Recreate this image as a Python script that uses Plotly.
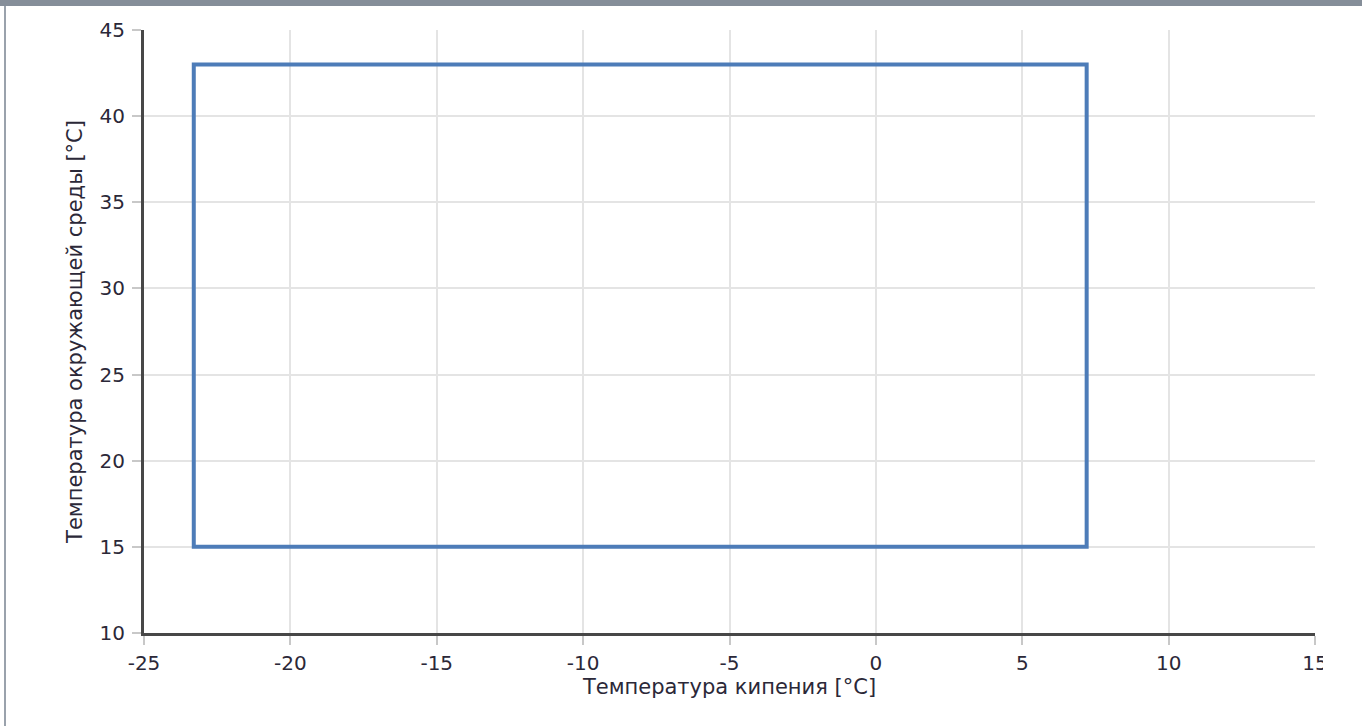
import plotly.graph_objects as go

# Data
boil_temp = [-23.3, 7.2, 7.2, -23.3, -23.3, 7.2]
ambient_temp = [43, 43, 15, 15, 43, 43]
x_ticks = [-25, -20, -15, -10, -5, 0, 5, 10, 15]
y_ticks = [10, 15, 20, 25, 30, 35, 40, 45]

W, H = 1362, 726
L, R, T, B = 144, 47, 30, 93
pw, ph = W - L - R, H - T - B

def px(x):
    return (x - L) / pw

def py(y):
    return (H - B - y) / ph

fig = go.Figure()
fig.add_trace(go.Scatter(
    x=boil_temp, y=ambient_temp, mode="lines",
    line=dict(color="#4d7cb8", width=4), hoverinfo="skip", showlegend=False,
))

FAM = "DejaVu Sans, Verdana, sans-serif"
TXT = "#2b2838"
axis_common = dict(
    showgrid=True, gridcolor="#e4e4e4", gridwidth=1.5,
    showline=True, linecolor="#474747", linewidth=3,
    ticks="outside", ticklen=9, tickwidth=2, tickcolor="#c8c8c8",
    zeroline=False, tickfont=dict(family=FAM, size=20, color=TXT),
)
fig.update_layout(
    width=W, height=H,
    margin=dict(l=L, r=R, t=T, b=B),
    paper_bgcolor="white", plot_bgcolor="white",
    xaxis=dict(range=[-25, 15], tickvals=x_ticks, ticktext=[str(v) for v in x_ticks],
               ticklabelstandoff=1,
               title=dict(text="Температура кипения [°C]", font=dict(family=FAM, size=21, color=TXT), standoff=0),
               **axis_common),
    yaxis=dict(range=[10, 45], tickvals=y_ticks, ticktext=[str(v) for v in y_ticks],
               ticklabelstandoff=3,
               title=dict(text="Температура окружающей среды [°C]", font=dict(family=FAM, size=21, color=TXT), standoff=12),
               **axis_common),
    shapes=[
        # clip area at right edge
        dict(type="rect", xref="paper", yref="paper", layer="above",
             x0=px(1323), x1=px(W + 5), y0=py(H + 5), y1=py(8),
             fillcolor="white", line=dict(width=0)),
        # top gray bar
        dict(type="rect", xref="paper", yref="paper", layer="above",
             x0=px(-5), x1=px(W + 5), y0=py(6), y1=py(-5),
             fillcolor="#858e99", line=dict(width=0)),
        # left border
        dict(type="rect", xref="paper", yref="paper", layer="above",
             x0=px(4), x1=px(6), y0=py(H + 5), y1=py(6),
             fillcolor="#9aa2ac", line=dict(width=0)),
    ],
)

fig.write_html("out.html", config={"displayModeBar": False},
               post_script="document.body.style.margin='0';document.body.style.overflow='hidden';")
